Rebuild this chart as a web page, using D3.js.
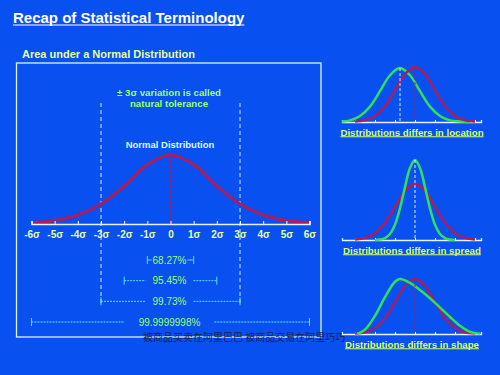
<!DOCTYPE html>
<html>
<head>
<meta charset="utf-8">
<script src="https://cdn.jsdelivr.net/npm/d3@7"></script>
<style>
  body { margin: 0; background: #0850f0; }
  svg { display: block; font-family: "Liberation Sans", Arial, sans-serif; }
</style>
</head>
<body>
<svg id="chart" width="500" height="375"></svg>
<script>
// main normal curve, heights read at each sigma step (peak = 1)
var sigmaSteps = [-6, -5, -4, -3, -2, -1, 0, 1, 2, 3, 4, 5, 6];
var sigmaLabels = ["-6σ", "-5σ", "-4σ", "-3σ", "-2σ", "-1σ", "0", "1σ", "2σ", "3σ", "4σ", "5σ", "6σ"];
var normalHeights = [0.02, 0.05, 0.13, 0.29, 0.55, 0.86, 1, 0.86, 0.55, 0.29, 0.13, 0.05, 0.02];

// coverage brackets
var rangeLabels = ["68.27%", "95.45%", "99.73%", "99.9999998%"];
var rangeSigmas = [1, 2, 3, 6];

// small panels: [x in sigma units, relative height]
var locationGreen = [[-3.65, 0.01], [-3.25, 0.03], [-2.75, 0.11], [-2.25, 0.28], [-1.75, 0.56], [-1.25, 0.85], [-0.75, 0.98], [-0.25, 0.85], [0.25, 0.56], [0.75, 0.28], [1.25, 0.11], [1.75, 0.03], [2.25, 0.01], [2.75, 0]];
var locationRed = [[-3, 0.007], [-2.5, 0.03], [-2, 0.11], [-1.5, 0.29], [-1, 0.58], [-0.5, 0.87], [0, 1], [0.5, 0.87], [1, 0.58], [1.5, 0.29], [2, 0.11], [2.5, 0.03], [3, 0.007]];
var locationMeans = [-0.75, 0];

var spreadGreen = [[-2, 0], [-1.75, 0.006], [-1.5, 0.024], [-1.25, 0.076], [-1, 0.19], [-0.75, 0.395], [-0.5, 0.66], [-0.25, 0.9], [0, 1], [0.25, 0.9], [0.5, 0.66], [0.75, 0.395], [1, 0.19], [1.25, 0.076], [1.5, 0.024], [1.75, 0.006], [2, 0]];
var spreadRed = [[-3, 0.006], [-2.5, 0.027], [-2, 0.088], [-1.5, 0.217], [-1, 0.416], [-0.5, 0.615], [0, 0.7], [0.5, 0.615], [1, 0.416], [1.5, 0.217], [2, 0.088], [2.5, 0.027], [3, 0.006]];
var spreadMean = 0;

var shapeGreen = [[-2.9, 0], [-2.5, 0.08], [-2, 0.33], [-1.5, 0.67], [-1, 0.95], [-0.75, 1], [-0.25, 0.93], [0.25, 0.8], [0.75, 0.65], [1.25, 0.48], [1.75, 0.31], [2.25, 0.15], [2.75, 0.04], [3.25, 0.005]];
var shapeRed = [[-3, 0.007], [-2.5, 0.03], [-2, 0.11], [-1.5, 0.29], [-1, 0.58], [-0.5, 0.87], [0, 1], [0.5, 0.87], [1, 0.58], [1.5, 0.29], [2, 0.11], [2.5, 0.03], [3, 0.007]];
var shapeMean = 0;

var panelLabels = ["Distributions differs in location", "Distributions differs in spread", "Distributions differs in shape"];
var smallTicks = [-3, -2, -1, 0, 1, 2, 3];

var red = "#a81e5e", green = "#30e05a", cyan = "#5fe0e8", lime = "#9cff6a", pale = "#e4ff9a";

var svg = d3.select("#chart");

// underlined bold text helper
function underlined(sel, x, y, txt, size, color, anchor) {
    var t = sel.append("text").attr("x", x).attr("y", y)
        .attr("fill", color).attr("font-size", size).attr("font-weight", "bold")
        .attr("text-anchor", anchor || "start").text(txt);
    var w = t.node().getComputedTextLength();
    var x0 = anchor == "middle" ? x - w / 2 : x;
    sel.append("line").attr("x1", x0).attr("x2", x0 + w)
        .attr("y1", y + size * 0.13).attr("y2", y + size * 0.13)
        .attr("stroke", color).attr("stroke-width", Math.max(1, size / 14));
    return t;
}
underlined(svg, 13, 23, "Recap of Statistical Terminology", 15, "#ffffff");

svg.append("text").attr("x", 22).attr("y", 58).attr("fill", pale)
    .attr("font-size", 11).attr("font-weight", "bold").text("Area under a Normal Distribution");

// main box
svg.append("rect").attr("x", 16.5).attr("y", 63).attr("width", 304.5).attr("height", 274)
    .attr("fill", "none").attr("stroke", "#d8f6ff").attr("stroke-width", 1.3);

// main chart scales
var x = d3.scaleLinear().domain([-6, 6]).range([31.5, 309.5]);
var y = d3.scaleLinear().domain([0, 1]).range([224, 155]);

// tolerance dashed lines
[-3, 3].forEach(function(s) {
    svg.append("line").attr("x1", x(s)).attr("x2", x(s)).attr("y1", 103).attr("y2", 303)
        .attr("stroke", "#cfe8ff").attr("stroke-width", 1).attr("stroke-dasharray", "4,3");
});

var mainLine = d3.line().x(function(d, i) { return x(sigmaSteps[i]); }).y(function(d) { return y(d); })
    .curve(d3.curveCatmullRom.alpha(0.5));
svg.append("path").attr("d", mainLine(normalHeights)).attr("fill", "none")
    .attr("stroke", red).attr("stroke-width", 3.2);

svg.append("line").attr("x1", x(0)).attr("x2", x(0)).attr("y1", y(1)).attr("y2", y(0))
    .attr("stroke", red).attr("stroke-width", 1).attr("stroke-dasharray", "3,2");

// axis
var axis = d3.axisBottom(x).tickValues(sigmaSteps).tickSize(-3)
    .tickFormat(function(d, i) { return sigmaLabels[i]; });
var gx = svg.append("g").attr("transform", "translate(0,224)").call(axis);
gx.select(".domain").attr("stroke", "#e6f4ff").attr("stroke-width", 1.5);
gx.selectAll(".tick line").attr("stroke", "#ffffff");
gx.selectAll(".tick text").attr("fill", pale).attr("font-size", 10).attr("font-weight", "bold")
    .attr("font-family", "Liberation Sans, Arial, sans-serif").attr("dy", "1.05em");

// annotations
svg.append("text").attr("x", 169).attr("y", 96).attr("text-anchor", "middle").attr("fill", lime)
    .attr("font-size", 9.7).attr("font-weight", "bold").text("± 3σ variation is called");
svg.append("text").attr("x", 169).attr("y", 107).attr("text-anchor", "middle").attr("fill", lime)
    .attr("font-size", 9.7).attr("font-weight", "bold").text("natural tolerance");
svg.append("text").attr("x", 170).attr("y", 148).attr("text-anchor", "middle").attr("fill", "#d8fbff")
    .attr("font-size", 9.5).attr("font-weight", "bold").text("Normal Distribution");

// coverage brackets
var bracketY = d3.scalePoint().domain(rangeLabels).range([260, 322]);
rangeLabels.forEach(function(lab, i) {
    var yy = bracketY(lab);
    var x0 = x(-rangeSigmas[i]), x1 = x(rangeSigmas[i]);
    var cx = (x0 + x1) / 2 - 1;
    var g = svg.append("g");
    var t = g.append("text").attr("x", cx).attr("y", yy + 3.5).attr("text-anchor", "middle")
        .attr("fill", lime).attr("font-size", 10).text(lab);
    var w = t.node().getComputedTextLength();
    var pad = i == 0 ? 1 : (i == 3 ? 14 : 7);
    var dash = i == 0 ? null : "2,1";
    [[x0, cx - w / 2 - pad], [cx + w / 2 + pad, x1]].forEach(function(seg) {
        g.append("line").attr("x1", seg[0]).attr("x2", seg[1]).attr("y1", yy).attr("y2", yy)
            .attr("stroke", cyan).attr("stroke-width", 1).attr("stroke-dasharray", dash);
    });
    [x0, x1].forEach(function(xx) {
        g.append("line").attr("x1", xx).attr("x2", xx).attr("y1", yy - 4).attr("y2", yy + 4)
            .attr("stroke", cyan).attr("stroke-width", 1);
    });
});

// watermark
svg.append("text").attr("x", 143).attr("y", 341).attr("fill", "#141a40").attr("font-size", 10)
    .attr("font-family", "Noto Sans CJK SC").attr("opacity", 0.9)
    .text("被商品买卖在阿里巴巴 被商品交易在阿里巧巧");

// small panels
var sx = d3.scaleLinear().domain([-3.65, 3.3]).range([342, 481]);
var panels = [
    { base: 122, top: 67, curves: [[locationGreen, green], [locationRed, red]], means: [[locationMeans[0], locationGreen, "#d8ecff"], [locationMeans[1], locationRed, red]] },
    { base: 240, top: 160, curves: [[spreadRed, red], [spreadGreen, green]], means: [[spreadMean, spreadGreen, "#d8ecff"]] },
    { base: 334, top: 279, curves: [[shapeRed, red], [shapeGreen, green]], means: [[shapeMean, shapeRed, red]] }
];

panels.forEach(function(p, k) {
    var sy = d3.scaleLinear().domain([0, 1]).range([p.base, p.top]);
    var g = svg.append("g");
    var ax = d3.axisBottom(sx).tickValues(smallTicks).tickSize(-2).tickFormat("");
    var ga = g.append("g").attr("transform", "translate(0," + p.base + ")").call(ax);
    ga.select(".domain").attr("stroke", "#e6f4ff").attr("stroke-width", 1.3);
    ga.selectAll(".tick line").attr("stroke", "#ffffff");

    var line = d3.line().x(function(d) { return sx(d[0]); }).y(function(d) { return sy(d[1]); })
        .curve(d3.curveCatmullRom.alpha(0.5));
    p.curves.forEach(function(c) {
        g.append("path").attr("d", line(c[0])).attr("fill", "none")
            .attr("stroke", c[1]).attr("stroke-width", 2.5);
    });
    p.means.forEach(function(m) {
        var peak = d3.max(m[1], function(d) { return d[1]; });
        g.append("line").attr("x1", sx(m[0])).attr("x2", sx(m[0]))
            .attr("y1", sy(peak)).attr("y2", p.base)
            .attr("stroke", m[2]).attr("stroke-width", 1).attr("stroke-dasharray", "3,2");
    });
    underlined(g, 412, p.base + 13.5, panelLabels[k], 9.7, "#d9ff5a", "middle");
});
</script>
</body>
</html>
